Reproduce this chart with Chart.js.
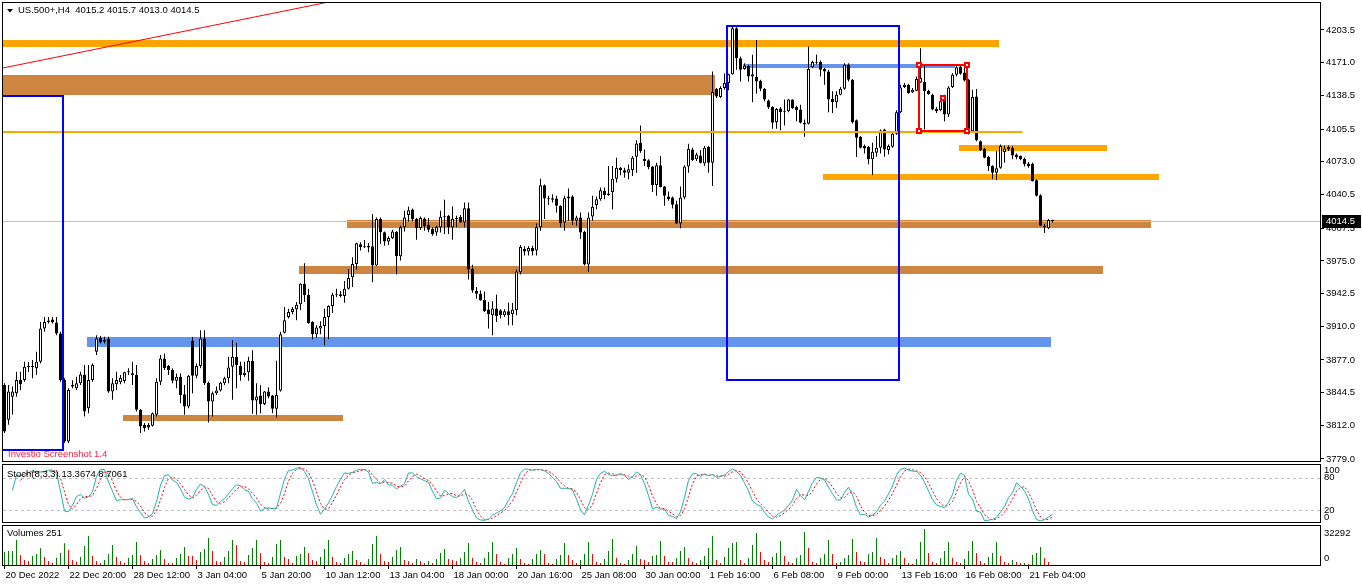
<!DOCTYPE html>
<html>
<head>
<meta charset="utf-8">
<title>US.500+,H4</title>
<script src="https://cdn.jsdelivr.net/npm/chart.js@4.4.1/dist/chart.umd.min.js"></script>
<style>
  html, body { margin: 0; padding: 0; background: #fff; }
  #screen { position: relative; width: 1362px; height: 585px; overflow: hidden; background: #fff; }
  #screen canvas { position: absolute; left: 0; }
</style>
</head>
<body>
<div id="screen">
  <canvas id="price-chart" width="1362" height="462" style="top:0"></canvas>
  <canvas id="stoch-chart" width="1362" height="62" style="top:462px"></canvas>
  <canvas id="volume-chart" width="1362" height="61" style="top:524px"></canvas>
</div>
<script>
// H4 bars, oldest first
const opens = [
  3852.2, 3817.8, 3840.7, 3844.0, 3857.1, 3857.1, 3870.0, 3871.0, 3868.7, 3875.2,
  3908.1, 3914.6, 3916.9, 3914.0, 3903.1, 3857.1, 3796.4, 3850.6, 3849.0, 3853.9,
  3862.7, 3829.3, 3857.1, 3885.1, 3898.9, 3895.0, 3897.6, 3845.7, 3852.9, 3855.0,
  3856.2, 3864.7, 3863.8, 3862.1, 3827.6, 3812.9, 3812.9, 3811.9, 3822.7, 3855.5,
  3878.5, 3871.0, 3867.0, 3856.5, 3860.4, 3843.0, 3830.9, 3895.9, 3861.4, 3871.0,
  3898.2, 3854.5, 3835.8, 3844.0, 3846.7, 3853.9, 3858.8, 3870.3, 3880.1, 3871.3,
  3862.1, 3864.7, 3876.2, 3836.8, 3841.7, 3833.5, 3845.7, 3841.7, 3828.6, 3846.7,
  3903.8, 3919.5, 3924.5, 3927.1, 3932.0, 3952.4, 3941.5, 3914.6, 3902.5, 3908.0,
  3910.7, 3919.5, 3930.4, 3941.5, 3941.9, 3940.2, 3947.4, 3958.9, 3972.0, 3991.4,
  3988.5, 3989.8, 3989.5, 3970.4, 4016.4, 4003.3, 3994.1, 3997.3, 4003.6, 3979.6,
  4008.2, 4020.3, 4025.9, 4016.4, 4007.5, 4017.0, 4010.5, 4006.5, 4003.2, 4008.2,
  4018.7, 4019.7, 4008.2, 4016.4, 4018.7, 4013.1, 4027.2, 3967.1, 3945.1, 3942.5,
  3936.6, 3926.8, 3921.2, 3927.8, 3926.1, 3921.2, 3925.1, 3922.2, 3926.1, 3963.8,
  3986.8, 3984.2, 3987.8, 3985.2, 4008.2, 4049.9, 4036.7, 4035.4, 4036.7, 4029.5,
  4013.1, 4037.1, 4038.7, 4014.7, 4018.0, 4003.9, 3971.4, 4019.0, 4030.2, 4036.1,
  4044.3, 4041.7, 4043.3, 4056.4, 4067.3, 4064.6, 4062.3, 4065.0, 4078.1, 4091.9,
  4076.1, 4074.5, 4068.3, 4050.2, 4069.6, 4048.5, 4038.7, 4037.7, 4031.1, 4012.1,
  4037.7, 4068.3, 4085.3, 4075.5, 4079.4, 4071.5, 4087.9, 4072.2, 4145.1, 4137.2,
  4146.1, 4151.0, 4159.8, 4205.1, 4175.6, 4164.8, 4168.0, 4157.5, 4156.9, 4153.3,
  4145.4, 4133.6, 4127.3, 4112.2, 4125.7, 4123.1, 4123.1, 4134.6, 4127.3, 4124.7,
  4111.6, 4110.6, 4166.7, 4171.7, 4171.7, 4164.8, 4162.5, 4135.5, 4131.9, 4139.5,
  4145.4, 4169.0, 4154.3, 4114.2, 4097.8, 4088.6, 4087.9, 4075.5, 4082.0, 4087.0,
  4105.0, 4084.7, 4087.9, 4100.7, 4122.1, 4147.0, 4149.3, 4141.8, 4143.4, 4151.6,
  4152.0, 4143.4, 4139.5, 4125.4, 4124.1, 4137.8, 4119.8, 4147.0, 4159.2, 4167.4,
  4161.5, 4154.3, 4103.4, 4137.8, 4093.5, 4086.0, 4077.8, 4068.9, 4062.3, 4067.3,
  4082.7, 4087.6, 4087.0, 4080.4, 4078.8, 4076.1, 4071.5, 4071.2, 4054.8, 4040.0,
  4009.8, 4007.2, 4015.2
];
const highs = [
  3853.9, 3852.2, 3850.6, 3865.4, 3865.4, 3875.2, 3875.0, 3876.9, 3885.1, 3914.6,
  3919.5, 3919.5, 3919.5, 3919.5, 3904.8, 3858.8, 3849.0, 3857.0, 3860.4, 3865.4,
  3871.9, 3871.9, 3873.6, 3901.5, 3900.8, 3899.9, 3899.9, 3858.8, 3865.4, 3862.0,
  3865.4, 3868.7, 3875.2, 3871.9, 3828.5, 3814.5, 3814.5, 3825.0, 3858.8, 3881.8,
  3883.4, 3871.9, 3868.7, 3863.7, 3863.7, 3852.2, 3862.1, 3899.8, 3873.6, 3906.4,
  3906.4, 3855.5, 3845.7, 3850.6, 3855.5, 3860.4, 3880.1, 3896.6, 3893.9, 3875.2,
  3875.2, 3880.1, 3886.7, 3853.9, 3852.2, 3846.3, 3849.9, 3842.4, 3876.2, 3904.8,
  3929.4, 3927.7, 3929.4, 3934.3, 3953.0, 3972.7, 3947.4, 3915.3, 3911.3, 3915.3,
  3927.7, 3931.0, 3943.5, 3947.4, 3945.1, 3955.0, 3967.1, 3978.6, 3993.0, 3993.4,
  3995.7, 3992.7, 4021.3, 4018.0, 4018.0, 4004.2, 3999.3, 4005.9, 4004.5, 4009.8,
  4024.6, 4028.5, 4026.8, 4017.4, 4019.0, 4018.0, 4017.4, 4008.2, 4009.8, 4024.6,
  4035.4, 4020.3, 4028.8, 4019.7, 4020.3, 4032.8, 4032.8, 3971.1, 3949.1, 3945.8,
  3944.8, 3934.3, 3935.0, 3941.5, 3927.1, 3927.1, 3933.7, 3933.3, 3966.5, 3990.8,
  3989.5, 3989.5, 3990.1, 4012.1, 4056.4, 4050.5, 4039.4, 4041.0, 4039.4, 4030.0,
  4039.4, 4046.6, 4040.0, 4019.7, 4022.9, 4004.9, 4022.9, 4039.4, 4038.7, 4047.6,
  4047.6, 4068.9, 4068.9, 4077.1, 4068.0, 4067.3, 4070.5, 4078.8, 4094.5, 4109.0,
  4085.3, 4075.5, 4068.9, 4072.2, 4078.8, 4049.2, 4043.6, 4038.7, 4034.4, 4048.5,
  4069.6, 4090.9, 4087.0, 4082.0, 4084.7, 4088.6, 4088.6, 4162.5, 4146.1, 4147.7,
  4160.8, 4160.2, 4206.8, 4207.4, 4177.2, 4170.7, 4169.0, 4178.9, 4193.7, 4154.3,
  4146.0, 4134.6, 4128.0, 4126.3, 4127.3, 4134.6, 4135.2, 4135.0, 4128.6, 4129.6,
  4114.9, 4187.1, 4173.0, 4178.9, 4173.3, 4165.8, 4164.1, 4142.8, 4142.8, 4147.0,
  4170.7, 4170.7, 4154.9, 4114.9, 4098.5, 4090.2, 4088.6, 4091.9, 4098.5, 4105.0,
  4105.7, 4090.2, 4101.7, 4124.1, 4149.3, 4151.0, 4150.3, 4146.1, 4157.5, 4185.4,
  4169.0, 4144.4, 4140.5, 4127.3, 4134.6, 4139.5, 4147.7, 4160.8, 4169.0, 4169.0,
  4169.0, 4154.9, 4144.4, 4145.1, 4094.2, 4087.0, 4078.8, 4069.6, 4083.7, 4090.2,
  4089.3, 4089.3, 4088.6, 4081.4, 4079.4, 4077.1, 4072.8, 4072.2, 4055.8, 4041.0,
  4011.4, 4016.4, 4015.7
];
const lows = [
  3804.6, 3812.9, 3822.7, 3840.7, 3847.3, 3855.5, 3865.0, 3858.8, 3862.1, 3873.6,
  3904.8, 3913.0, 3913.0, 3901.5, 3855.5, 3794.8, 3794.8, 3849.0, 3847.3, 3852.2,
  3821.1, 3824.3, 3855.5, 3881.8, 3893.3, 3893.3, 3844.5, 3837.5, 3847.3, 3853.0,
  3853.9, 3862.1, 3852.2, 3826.0, 3804.6, 3806.3, 3808.0, 3811.2, 3821.1, 3852.2,
  3867.0, 3862.1, 3853.9, 3848.9, 3834.2, 3822.7, 3829.3, 3844.0, 3858.8, 3868.7,
  3852.2, 3815.1, 3821.1, 3842.4, 3845.7, 3852.2, 3853.9, 3837.5, 3849.0, 3856.5,
  3860.4, 3856.5, 3823.7, 3822.7, 3824.3, 3832.5, 3839.1, 3824.3, 3820.1, 3845.7,
  3903.1, 3917.9, 3922.2, 3916.3, 3926.1, 3934.3, 3912.9, 3897.5, 3898.9, 3902.5,
  3891.6, 3897.5, 3923.5, 3939.2, 3938.9, 3933.7, 3946.8, 3949.1, 3966.5, 3985.2,
  3987.8, 3983.6, 3954.0, 3969.8, 3991.8, 3990.1, 3990.8, 3996.7, 3961.6, 3975.3,
  4004.2, 4013.8, 4014.1, 3996.0, 4005.5, 4004.9, 4003.3, 3999.9, 3999.9, 4003.2,
  4001.6, 4001.6, 3996.0, 4008.2, 4012.4, 4008.2, 3956.6, 3943.5, 3937.6, 3935.5,
  3924.5, 3908.0, 3901.5, 3914.6, 3917.9, 3919.5, 3911.3, 3911.3, 3921.2, 3961.5,
  3980.3, 3980.3, 3980.3, 3980.3, 4004.9, 4016.4, 4030.2, 4032.8, 4023.0, 4008.2,
  4004.9, 4014.7, 4010.5, 4009.8, 3996.7, 3970.4, 3963.9, 4014.7, 4026.2, 4034.4,
  4036.1, 4039.4, 4026.2, 4052.5, 4059.7, 4057.4, 4055.8, 4059.1, 4062.3, 4082.0,
  4068.9, 4065.6, 4043.3, 4039.4, 4047.6, 4029.5, 4034.4, 4026.9, 4011.4, 4007.2,
  4036.1, 4062.3, 4073.8, 4073.8, 4071.5, 4068.9, 4062.3, 4049.2, 4136.2, 4136.2,
  4144.4, 4143.8, 4159.2, 4164.1, 4152.6, 4164.1, 4152.6, 4131.9, 4140.5, 4142.8,
  4132.9, 4125.4, 4105.7, 4105.7, 4104.4, 4109.0, 4122.1, 4125.4, 4113.2, 4110.9,
  4097.8, 4110.0, 4165.7, 4169.7, 4157.5, 4149.3, 4122.1, 4121.4, 4126.4, 4138.8,
  4144.4, 4152.6, 4110.9, 4077.8, 4086.3, 4081.4, 4070.6, 4060.0, 4078.1, 4081.4,
  4078.1, 4080.4, 4087.0, 4099.8, 4121.4, 4146.1, 4140.5, 4141.1, 4142.8, 4151.0,
  4105.0, 4139.5, 4124.1, 4121.4, 4123.1, 4113.2, 4117.5, 4146.1, 4157.5, 4159.2,
  4152.6, 4100.1, 4102.7, 4093.5, 4083.7, 4076.5, 4064.0, 4055.8, 4055.1, 4066.3,
  4072.2, 4083.7, 4075.5, 4075.5, 4074.5, 4068.3, 4067.3, 4053.5, 4038.7, 4009.2,
  4002.6, 4006.5, 4013.0
];
const closes = [
  3806.3, 3845.7, 3845.7, 3857.1, 3852.9, 3870.3, 3871.0, 3870.0, 3875.2, 3908.1,
  3914.6, 3916.0, 3914.0, 3903.1, 3857.1, 3796.4, 3847.3, 3852.2, 3853.9, 3862.7,
  3826.0, 3857.1, 3871.9, 3898.2, 3894.3, 3897.0, 3845.7, 3853.9, 3857.1, 3859.5,
  3864.7, 3865.0, 3862.1, 3827.6, 3811.2, 3809.6, 3810.2, 3824.3, 3855.5, 3878.5,
  3868.7, 3867.0, 3856.5, 3860.4, 3842.4, 3830.9, 3861.4, 3861.4, 3871.0, 3898.2,
  3853.9, 3835.8, 3844.0, 3846.7, 3854.5, 3858.8, 3869.6, 3880.1, 3871.9, 3862.1,
  3864.4, 3876.2, 3836.8, 3840.8, 3833.5, 3845.7, 3840.8, 3828.6, 3842.4, 3902.5,
  3916.3, 3924.5, 3927.4, 3931.7, 3952.4, 3940.9, 3913.6, 3902.5, 3909.0, 3910.7,
  3919.5, 3930.4, 3941.5, 3942.0, 3940.2, 3947.4, 3958.0, 3972.0, 3992.4, 3988.5,
  3989.0, 3988.2, 3970.4, 4016.4, 4003.3, 3994.1, 3997.7, 4004.2, 3979.6, 4008.2,
  4018.0, 4025.2, 4016.4, 4007.5, 4017.4, 4009.2, 4005.9, 4001.6, 4008.8, 4018.7,
  4019.0, 4008.2, 4016.4, 4017.0, 4013.1, 4027.2, 3966.5, 3945.8, 3942.5, 3936.0,
  3925.1, 3922.2, 3927.8, 3920.5, 3921.2, 3925.1, 3921.2, 3926.8, 3964.5, 3988.8,
  3984.2, 3987.8, 3984.2, 4008.2, 4049.9, 4036.7, 4036.0, 4037.1, 4029.5, 4012.4,
  4037.1, 4038.7, 4014.7, 4018.0, 4003.2, 3971.4, 4018.0, 4028.5, 4036.1, 4044.9,
  4040.3, 4040.3, 4056.4, 4067.3, 4065.0, 4062.3, 4065.6, 4077.1, 4091.2, 4083.7,
  4073.8, 4067.9, 4050.2, 4069.6, 4048.2, 4039.4, 4036.1, 4030.5, 4012.1, 4037.7,
  4068.3, 4086.0, 4074.8, 4080.4, 4072.2, 4087.0, 4072.2, 4142.1, 4137.8, 4146.1,
  4151.0, 4159.8, 4205.1, 4175.6, 4164.1, 4168.0, 4157.5, 4159.8, 4152.6, 4145.4,
  4134.6, 4127.0, 4111.6, 4125.4, 4122.1, 4122.5, 4134.6, 4126.3, 4124.1, 4111.6,
  4110.0, 4164.8, 4171.7, 4171.0, 4164.1, 4162.5, 4134.6, 4131.9, 4139.5, 4145.4,
  4169.0, 4154.3, 4112.2, 4096.8, 4087.0, 4086.3, 4075.5, 4083.0, 4087.0, 4104.0,
  4085.3, 4088.6, 4100.7, 4122.1, 4146.7, 4149.3, 4141.1, 4144.4, 4154.9, 4155.9,
  4142.8, 4140.1, 4124.7, 4123.1, 4132.9, 4119.8, 4146.7, 4159.2, 4166.7, 4160.2,
  4153.6, 4101.7, 4137.2, 4094.5, 4084.7, 4077.1, 4068.9, 4062.3, 4066.6, 4088.6,
  4086.3, 4085.3, 4079.4, 4077.8, 4075.5, 4070.6, 4068.9, 4054.1, 4039.4, 4009.8,
  4008.2, 4015.4, 4014.5
];
const volumes = [
  11320, 11890, 11950, 21230, 8490, 4250, 3400, 7640, 9340, 14150,
  6790, 3400, 1980, 6230, 10190, 18400, 12740, 4250, 2830, 6790,
  16130, 24620, 7640, 3400, 1700, 4250, 9340, 16980, 6790, 3400,
  1980, 5940, 8490, 19530, 8490, 3400, 1700, 5090, 8490, 12740,
  5090, 1700, 1700, 5940, 9340, 15280, 7640, 7640, 4250, 11040,
  13580, 22920, 11890, 3400, 2550, 6790, 11890, 21230, 16980, 3400,
  2550, 8490, 14430, 21230, 10190, 2550, 1700, 6790, 17830, 21230,
  6790, 5090, 1700, 7640, 9340, 15280, 10190, 4250, 3400, 6790,
  13580, 21230, 6790, 2550, 1700, 5940, 9340, 11890, 4250, 2550,
  850, 5090, 17830, 24620, 9340, 3400, 2550, 6790, 12740, 15280,
  4250, 3400, 1700, 5090, 3400, 1700, 3400, 1700, 5090, 10190,
  13580, 5090, 4250, 3400, 5940, 11040, 18680, 5940, 2550, 1700,
  5940, 11040, 19530, 9340, 2550, 850, 5940, 9340, 14430, 5090,
  1700, 850, 5090, 9340, 12740, 9340, 1700, 850, 5090, 8490,
  18680, 8490, 4250, 1700, 4250, 9340, 19530, 9340, 2550, 1700,
  5090, 11890, 22070, 5940, 1700, 850, 4250, 9340, 16130, 5090,
  4250, 2550, 7640, 8490, 20380, 7640, 2550, 2550, 5940, 11890,
  15280, 5940, 2550, 1700, 4250, 7640, 14430, 24620, 4250, 1700,
  6790, 14430, 18680, 19530, 4250, 1700, 5940, 16980, 27170, 11040,
  4250, 2550, 6790, 10190, 20380, 7640, 2550, 1700, 5940, 8490,
  28020, 14430, 2550, 1700, 5940, 9340, 21230, 9340, 1700, 2550,
  5940, 8490, 22070, 11040, 3400, 2550, 9340, 11040, 22920, 6790,
  5090, 1700, 5940, 8490, 11890, 5940, 1700, 850, 5090, 19530,
  30560, 10190, 2550, 1700, 5940, 11890, 19530, 5940, 2550, 1700,
  5090, 11890, 20380, 10190, 3400, 1700, 6790, 10190, 19530, 7640,
  2550, 1700, 4250, 2550, 1700, 1750, 850, 8490, 10190, 15280,
  5940, 2550, 251
];
const dateTicks = [0, 16, 32, 48, 64, 80, 96, 112, 128, 144, 160, 176, 192, 208, 224, 240, 256];
const dateLabels = [
  '20 Dec 2022', '22 Dec 20:00', '28 Dec 12:00', '3 Jan 04:00', '5 Jan 20:00', '10 Jan 12:00',
  '13 Jan 04:00', '18 Jan 00:00', '20 Jan 16:00', '25 Jan 08:00', '30 Jan 00:00', '1 Feb 16:00',
  '6 Feb 08:00', '9 Feb 00:00', '13 Feb 16:00', '16 Feb 08:00', '21 Feb 04:00'
];
const priceTicks = [4203.5, 4171.0, 4138.5, 4105.5, 4073.0, 4040.5, 4007.5, 3975.0, 3942.5, 3910.0, 3877.0, 3844.5, 3812.0, 3779.0];
const stochLevels = [100, 80, 20, 0];
const stochDashed = [80, 20];
const volumeLabels = [32292, 0];
const stochTitle = 'Stoch(8,3,3) 13.3674 8.7061';

// objects drawn on the price window, in bar index / price units
const bands = [
  { from: -1, to: 248.6, top: 4193.6, bottom: 4186.7, color: '#FFA500' },
  { from: -1, to: 177.6, top: 4159.0, bottom: 4139.2, color: '#CD853F' },
  { from: 85.6, to: 286.6, top: 4015.5, bottom: 4007.9, color: '#CD853F' },
  { from: 73.6, to: 274.6, top: 3970.0, bottom: 3961.8, color: '#CD853F' },
  { from: 20.7, to: 261.6, top: 3899.5, bottom: 3890.2, color: '#6495ED' },
  { from: 29.7, to: 84.55, top: 3822.6, bottom: 3816.9, color: '#CD853F' },
  { from: 184.7, to: 237.6, top: 4169.9, bottom: 4165.4, color: '#6495ED' },
  { from: 238.6, to: 275.55, top: 4089.7, bottom: 4084.1, color: '#FFA500' },
  { from: 204.55, to: 288.6, top: 4061.0, bottom: 4055.1, color: '#FFA500' }
];
const outlines = [
  { from: -1, to: 14.55, top: 4138.5, bottom: 3788.0, color: '#0000FF' },
  { from: 180.55, to: 223.6, top: 4207.5, bottom: 3857.2, color: '#0000FF' },
  { from: 228.6, to: 240.55, top: 4169.2, bottom: 4103.9, color: '#FF0000',
    handles: [[228.6, 4169.2], [240.55, 4169.2], [228.6, 4103.9], [240.55, 4103.9], [234.6, 4136.2]] }
];
const levelLine = { from: -1, to: 254.5, price: 4102.9, color: '#FFA500' };
const trendLine = { x1: -0.375, y1: 4165.9, x2: 53.875, y2: 4209.4, color: '#FF0000' };

const last = closes.length - 1;
const bars = closes.map((_, i) => i);
const xMin = -0.375;
const xMax = xMin + 1317 / 4;
const uiFamily = '"Liberation Sans", Arial, sans-serif';
const uiFont = `9.5px ${uiFamily}`;
const tickFont = { family: uiFamily, size: 9.5 };

const stochastic = (kPeriod, slowing, dPeriod) => {
  const ll = bars.map((i) => Math.min(...lows.slice(Math.max(0, i - kPeriod + 1), i + 1)));
  const hh = bars.map((i) => Math.max(...highs.slice(Math.max(0, i - kPeriod + 1), i + 1)));
  const main = bars.map((i) => {
    if (i < slowing - 1) return null;
    let num = 0;
    let den = 0;
    for (let j = i - slowing + 1; j <= i; j++) {
      num += closes[j] - ll[j];
      den += hh[j] - ll[j];
    }
    return den ? (100 * num) / den : 100;
  });
  const signal = bars.map((i) => {
    const win = main.slice(Math.max(0, i - dPeriod + 1), i + 1);
    if (win.length < dPeriod || win.some((v) => v === null)) return null;
    return win.reduce((s, v) => s + v, 0) / dPeriod;
  });
  return { main, signal };
};

const stoch = stochastic(8, 3, 3);

// keep the right scale a fixed width and stop edge labels from shrinking the plot
const fixAxisWidth = (scale) => {
  scale.width = 42;
  scale.paddingTop = 0;
  scale.paddingBottom = 0;
};
const hiddenX = { type: 'linear', min: xMin, max: xMax, display: false, offset: false };
const sideAxis = (min, max) => ({
  position: 'right', min, max,
  afterFit: fixAxisWidth,
  ticks: { display: false },
  grid: { display: false },
  border: { display: false }
});
const baseOptions = (padding) => ({
  responsive: false,
  animation: false,
  events: [],
  layout: { padding },
  plugins: { legend: { display: false }, tooltip: { enabled: false } }
});

const drawFrame = (chart) => {
  const { ctx, chartArea: a } = chart;
  ctx.save();
  ctx.strokeStyle = '#000';
  ctx.lineWidth = 1;
  ctx.strokeRect(a.left - 0.5, a.top - 0.5, a.right - a.left + 1, a.bottom - a.top + 1);
  ctx.restore();
};

const drawLabel = (ctx, text, x, y, color = '#000') => {
  ctx.save();
  ctx.font = uiFont;
  ctx.fillStyle = color;
  ctx.textAlign = 'left';
  ctx.textBaseline = 'middle';
  ctx.fillText(text, x, y);
  ctx.restore();
};

const drawSideLabels = (chart, values, margin) => {
  const { ctx, chartArea: a, scales: { y } } = chart;
  values.forEach((v) => {
    const yy = Math.min(Math.max(y.getPixelForValue(v), a.top + margin), a.bottom - margin);
    drawLabel(ctx, String(v), a.right + 4, yy);
  });
};

const clipToArea = (chart, draw) => {
  const { ctx, chartArea: a } = chart;
  ctx.save();
  ctx.beginPath();
  ctx.rect(a.left, a.top, a.right - a.left, a.bottom - a.top);
  ctx.clip();
  draw(ctx, a);
  ctx.restore();
};

const px = (chart, bar) => chart.scales.x.getPixelForValue(bar);
const py = (chart, price) => chart.scales.y.getPixelForValue(price);

const priceObjects = {
  id: 'priceObjects',
  beforeDatasetsDraw(chart) {
    clipToArea(chart, (ctx, a) => {
      bands.forEach((b) => {
        const x1 = Math.round(px(chart, b.from));
        const x2 = Math.round(px(chart, b.to));
        const y1 = Math.round(py(chart, b.top));
        const y2 = Math.round(py(chart, b.bottom));
        ctx.fillStyle = b.color;
        ctx.fillRect(x1, y1, x2 - x1, y2 - y1);
      });
      const bidY = Math.round(py(chart, closes[last])) + 0.5;
      ctx.strokeStyle = '#C0C0C0';
      ctx.lineWidth = 1;
      ctx.beginPath();
      ctx.moveTo(a.left, bidY);
      ctx.lineTo(a.right, bidY);
      ctx.stroke();
    });
  },
  afterDatasetsDraw(chart) {
    clipToArea(chart, (ctx) => {
      const ly = Math.round(py(chart, levelLine.price));
      ctx.strokeStyle = levelLine.color;
      ctx.lineWidth = 2;
      ctx.beginPath();
      ctx.moveTo(px(chart, levelLine.from), ly);
      ctx.lineTo(px(chart, levelLine.to), ly);
      ctx.stroke();

      outlines.forEach((r) => {
        const x1 = Math.round(px(chart, r.from));
        const x2 = Math.round(px(chart, r.to));
        const y1 = Math.round(py(chart, r.top));
        const y2 = Math.round(py(chart, r.bottom));
        ctx.strokeStyle = r.color;
        ctx.lineWidth = 2;
        ctx.strokeRect(x1, y1, x2 - x1, y2 - y1);
        (r.handles || []).forEach(([hb, hp]) => {
          const hx = Math.round(px(chart, hb));
          const hy = Math.round(py(chart, hp));
          ctx.fillStyle = r.color;
          ctx.fillRect(hx - 3, hy - 3, 6, 6);
          ctx.fillStyle = '#fff';
          ctx.fillRect(hx - 1, hy - 1, 2, 2);
        });
      });

      const ax = px(chart, trendLine.x1);
      const ay = py(chart, trendLine.y1);
      const bx = px(chart, trendLine.x2);
      const by = py(chart, trendLine.y2);
      ctx.strokeStyle = trendLine.color;
      ctx.lineWidth = 1;
      ctx.beginPath();
      ctx.moveTo(ax, ay);
      ctx.lineTo(ax + (bx - ax) * 20, ay + (by - ay) * 20);
      ctx.stroke();
    });
  },
  afterDraw(chart) {
    const { ctx, chartArea: a } = chart;
    drawFrame(chart);

    ctx.save();
    ctx.fillStyle = '#000';
    ctx.beginPath();
    ctx.moveTo(7, 9);
    ctx.lineTo(13, 9);
    ctx.lineTo(10, 12.5);
    ctx.closePath();
    ctx.fill();
    ctx.restore();
    const ohlc = [opens[last], highs[last], lows[last], closes[last]].map((v) => v.toFixed(1)).join(' ');
    drawLabel(ctx, `US.500+,H4  ${ohlc}`, 18, 10.5);
    drawLabel(ctx, 'Investio Screenshot 1.4', 8, 454, '#ff2040');

    const bidY = Math.round(py(chart, closes[last]));
    ctx.save();
    ctx.fillStyle = '#000';
    ctx.fillRect(a.right + 2, bidY - 6, 39, 13);
    ctx.restore();
    drawLabel(ctx, closes[last].toFixed(1), a.right + 6, bidY + 0.5, '#fff');
  }
};

const stochDecor = {
  id: 'stochDecor',
  beforeDatasetsDraw(chart) {
    const { ctx, chartArea: a, scales: { y } } = chart;
    ctx.save();
    ctx.strokeStyle = '#C0C0C0';
    ctx.lineWidth = 1;
    ctx.setLineDash([3, 3]);
    stochDashed.forEach((v) => {
      const yy = Math.round(y.getPixelForValue(v)) + 0.5;
      ctx.beginPath();
      ctx.moveTo(a.left, yy);
      ctx.lineTo(a.right, yy);
      ctx.stroke();
    });
    ctx.restore();
  },
  afterDraw(chart) {
    drawFrame(chart);
    drawLabel(chart.ctx, stochTitle, 7, 12);
    drawSideLabels(chart, stochLevels, 5);
  }
};

const volumeDecor = {
  id: 'volumeDecor',
  afterDraw(chart) {
    drawFrame(chart);
    drawLabel(chart.ctx, `Volumes ${volumes[last]}`, 7, 9.5);
    drawSideLabels(chart, volumeLabels, 7);
  }
};

new Chart(document.getElementById('price-chart'), {
  type: 'bar',
  data: {
    datasets: [
      {
        label: 'shadows',
        data: bars.map((i) => ({ x: i, y: [lows[i], highs[i]] })),
        backgroundColor: '#000',
        borderWidth: 0,
        barThickness: 1,
        grouped: false,
        inflateAmount: 0,
        order: 2
      },
      {
        label: 'bodies',
        data: bars.map((i) => ({ x: i, y: [opens[i], closes[i]] })),
        backgroundColor: (c) => (closes[c.dataIndex] >= opens[c.dataIndex] ? '#fff' : '#000'),
        borderColor: '#000',
        borderWidth: 1,
        borderSkipped: false,
        barThickness: 3,
        minBarLength: 1,
        grouped: false,
        inflateAmount: 0,
        order: 1
      }
    ]
  },
  options: {
    ...baseOptions({ left: 3, top: 3, right: 0, bottom: 1 }),
    scales: {
      x: hiddenX,
      y: {
        position: 'right',
        min: 3777.0,
        max: 4230.2,
        afterBuildTicks: (scale) => { scale.ticks = priceTicks.map((value) => ({ value })); },
        afterFit: fixAxisWidth,
        ticks: { callback: (v) => Number(v).toFixed(1), color: '#000', font: tickFont, padding: 2, autoSkip: false },
        grid: { drawOnChartArea: false, drawTicks: true, tickLength: 4, color: '#000' },
        border: { display: false }
      }
    }
  },
  plugins: [priceObjects]
});

new Chart(document.getElementById('stoch-chart'), {
  type: 'line',
  data: {
    datasets: [
      {
        label: 'main',
        data: bars.filter((i) => stoch.main[i] !== null).map((i) => ({ x: i, y: stoch.main[i] })),
        borderColor: '#20B2AA',
        borderWidth: 1,
        pointRadius: 0,
        tension: 0
      },
      {
        label: 'signal',
        data: bars.filter((i) => stoch.signal[i] !== null).map((i) => ({ x: i, y: stoch.signal[i] })),
        borderColor: '#FF0000',
        borderWidth: 1,
        borderDash: [2, 2],
        pointRadius: 0,
        tension: 0
      }
    ]
  },
  options: {
    ...baseOptions({ left: 3, top: 3, right: 0, bottom: 2 }),
    scales: { x: hiddenX, y: sideAxis(-1, 103) }
  },
  plugins: [stochDecor]
});

new Chart(document.getElementById('volume-chart'), {
  type: 'bar',
  data: {
    datasets: [{
      label: 'volumes',
      data: bars.map((i) => ({ x: i, y: volumes[i] })),
      backgroundColor: (c) => (c.dataIndex === 0 || volumes[c.dataIndex] > volumes[c.dataIndex - 1] ? '#008000' : '#FF0000'),
      borderWidth: 0,
      barThickness: 1,
      inflateAmount: 0,
      grouped: false
    }]
  },
  options: {
    ...baseOptions({ left: 3, top: 2, right: 0, bottom: 0 }),
    scales: {
      x: {
        type: 'linear',
        min: xMin,
        max: xMax,
        offset: false,
        afterBuildTicks: (scale) => { scale.ticks = dateTicks.map((value) => ({ value })); },
        afterFit: (scale) => {
          scale.height = 20;
          scale.paddingLeft = 0;
          scale.paddingRight = 0;
        },
        ticks: {
          callback: (value) => dateLabels[dateTicks.indexOf(value)] || '',
          align: 'start',
          autoSkip: false,
          maxRotation: 0,
          padding: 1,
          labelOffset: 1,
          color: '#000',
          font: tickFont
        },
        grid: { drawOnChartArea: false, drawTicks: true, tickLength: 4, color: '#000', offset: false },
        border: { display: false }
      },
      y: sideAxis(0, 33100)
    }
  },
  plugins: [volumeDecor]
});
</script>
</body>
</html>
